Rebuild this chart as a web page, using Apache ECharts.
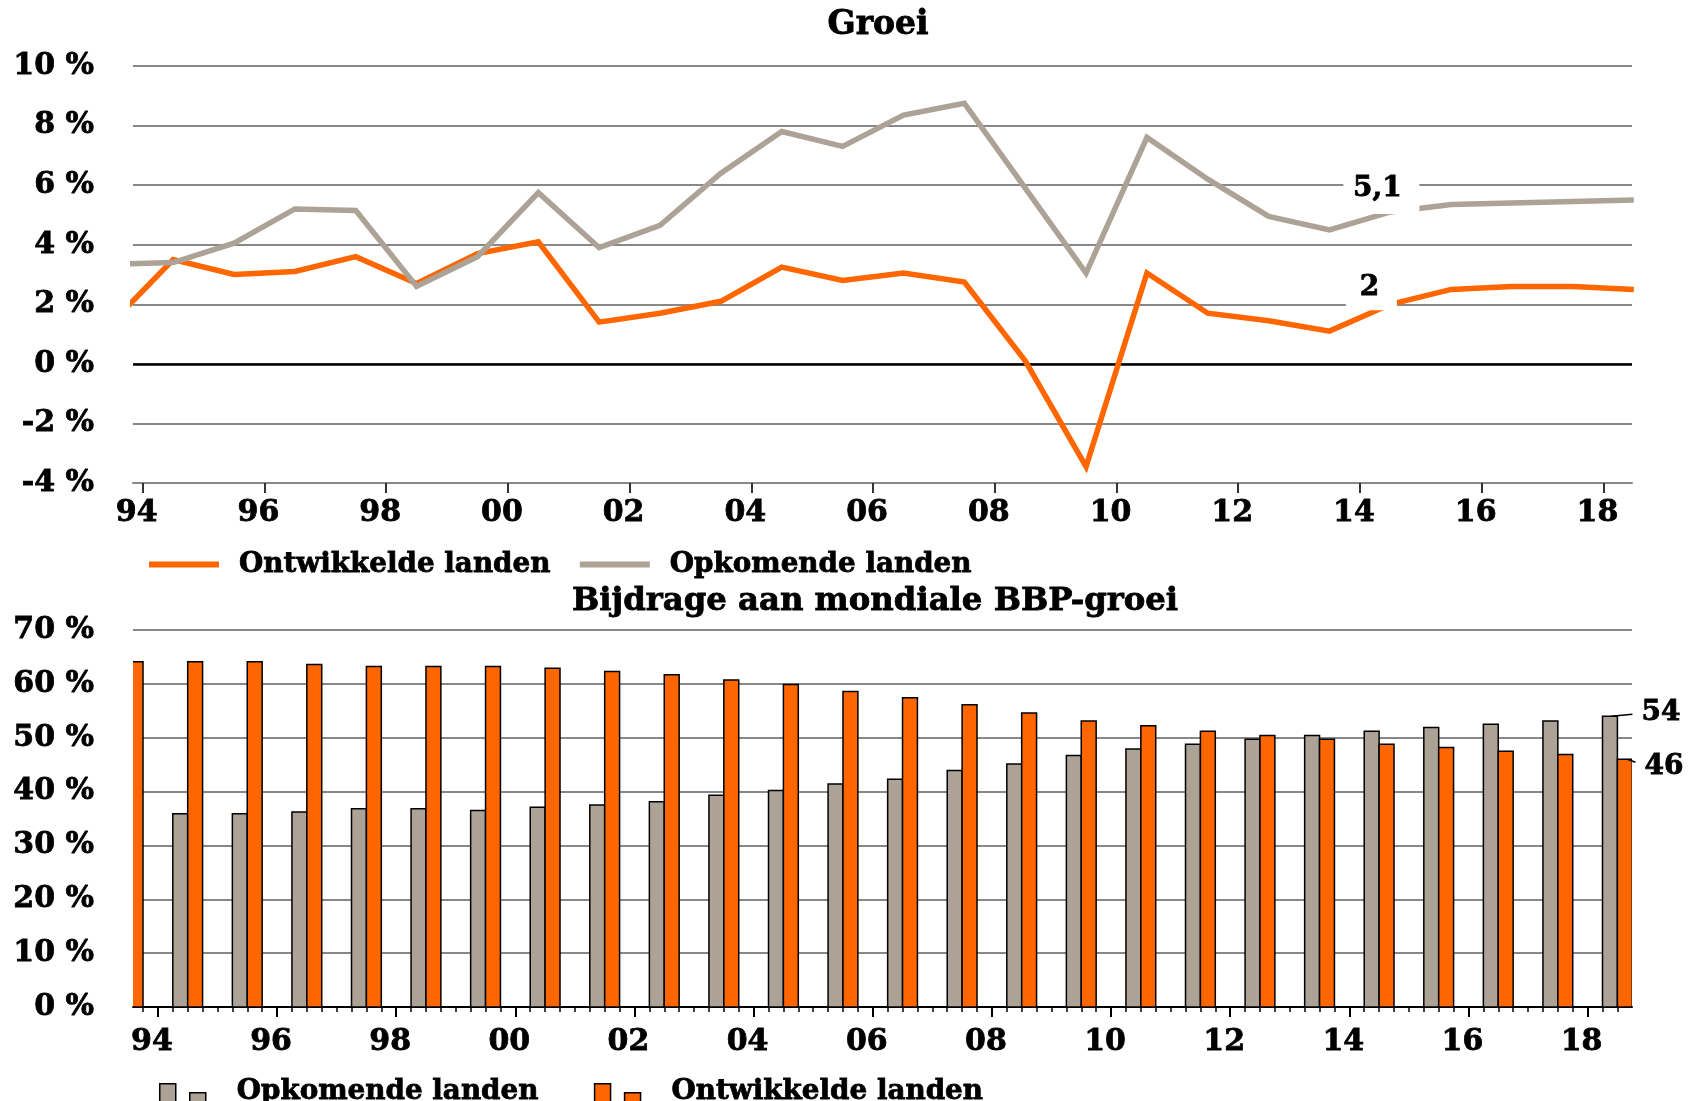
<!DOCTYPE html>
<html><head><meta charset="utf-8">
<script src="https://cdn.jsdelivr.net/npm/echarts@6/dist/echarts.min.js"></script>
<style>html,body{margin:0;padding:0;background:#fff}#c{width:1694px;height:1101px}</style>
</head><body><div id="c"></div>
<script>
// ---- data ----
const years = [1993,1994,1995,1996,1997,1998,1999,2000,2001,2002,2003,2004,2005,2006,2007,2008,2009,2010,2011,2012,2013,2014,2015,2016,2017,2018];
// Groei (%), yearly values plotted at mid-year
const growthDeveloped = [1.4,3.5,3.0,3.1,3.6,2.7,3.7,4.1,1.4,1.7,2.1,3.25,2.8,3.05,2.75,0.1,-3.45,3.05,1.7,1.45,1.1,2.0,2.5,2.6,2.6,2.5];
const growthEmerging  = [3.35,3.4,4.05,5.2,5.15,2.6,3.6,5.75,3.9,4.65,6.4,7.8,7.3,8.35,8.75,5.9,3.05,7.6,6.2,4.95,4.5,5.1,5.35,5.4,5.45,5.5];
// Bijdrage aan mondiale BBP-groei (%)
const shareEmerging  = [35.9,35.9,35.9,36.2,36.8,36.8,36.5,37.1,37.5,38.1,39.3,40.2,41.4,42.3,43.9,45.1,46.7,47.9,48.8,49.7,50.4,51.2,51.9,52.5,53.1,54.0];
const shareDeveloped = [64.1,64.1,64.1,63.6,63.2,63.2,63.2,62.9,62.3,61.7,60.7,59.9,58.6,57.4,56.1,54.6,53.1,52.2,51.2,50.4,49.7,48.8,48.2,47.5,46.9,46.0];
const majorTickYears = [1994,1996,1998,2000,2002,2004,2006,2008,2010,2012,2014,2016,2018];
const nameDev = 'Ontwikkelde landen';
const nameEm = 'Opkomende landen';
const title1 = 'Groei';
const title2 = 'Bijdrage aan mondiale BBP-groei';
const labelEmIdx = 21, labelDevIdx = 21; // 2014 labels
const labelEmText = '5,1', labelDevText = '2';
const endEmText = '54', endDevText = '46';

// ---- style ----
const FONT = "'DejaVu Serif', serif";
const ORANGE = '#FF6600', GREY = '#ACA296', GRID = '#888888';
const minorTicks = [];
for (let v = 1993.75; v <= 2018.76; v += 0.25) minorTicks.push(+v.toFixed(2));
const yr2 = v => String(Math.round(v) % 100).padStart(2, '0');
const lab = {fontFamily: FONT, fontWeight: 'bold', fontSize: 28, color: '#000', textBorderColor: '#000', textBorderWidth: 0.8};
const axisLab = Object.assign({}, lab, {fontSize: 30});
const legLab = Object.assign({}, lab, {fontSize: 27.8});

const chart = echarts.init(document.getElementById('c'));
const lastI = years.length - 1;

// bar drawn through the axis scales; off0/off1 = bar extent in years around the mid-year point
function barRender(off0, off1, fill) {
  return function (params, api) {
    const x = api.value(0), v = api.value(1);
    const a = api.coord([x + off0, v]);
    const b = api.coord([x + off1, 0]);
    return {
      type: 'rect',
      shape: {x: a[0], y: a[1], width: b[0] - a[0], height: b[1] - a[1]},
      style: {fill: fill, stroke: '#000', lineWidth: 1.5}
    };
  };
}

const option = {
  animation: false,
  backgroundColor: '#fff',
  grid: [
    {left: 133, right: 62, top: 66, height: 417},
    {left: 133, right: 62, top: 630, height: 377}
  ],
  legend: [
    {
      left: 144, top: 545, orient: 'horizontal', itemWidth: 70, itemHeight: 6, itemGap: 29, icon: 'rect',
      selectedMode: false,
      data: [
        {name: nameDev, itemStyle: {color: ORANGE, borderWidth: 0}},
        {name: nameEm, itemStyle: {color: GREY, borderWidth: 0}}
      ],
      textStyle: Object.assign({}, legLab, {padding: [0, 0, 9, 15]})
    },
    {
      left: 154, top: 1071, orient: 'horizontal', itemWidth: 46, itemHeight: 31, itemGap: 55,
      selectedMode: false,
      // leading move-to keeps the bars in the lower part of the icon box
      icon: 'path://M0,-7 M0,0 L16,0 L16,24 L0,24 Z M30,9 L46,9 L46,24 L30,24 Z',
      data: [
        {name: nameEm, itemStyle: {color: GREY, borderColor: '#000', borderWidth: 1.5}},
        {name: nameDev, itemStyle: {color: ORANGE, borderColor: '#000', borderWidth: 1.5}}
      ],
      textStyle: Object.assign({}, legLab, {padding: [0, 0, 0, 26]})
    }
  ],
  xAxis: [
    {
      gridIndex: 0, type: 'value', min: 1993.84, max: 2018.47, position: 'bottom',
      axisLine: {show: true, onZero: false, lineStyle: {color: GRID, width: 2}},
      axisTick: {show: true, customValues: majorTickYears, length: 10, lineStyle: {color: '#333', width: 2}},
      axisLabel: Object.assign({}, axisLab, {customValues: majorTickYears, formatter: yr2, margin: 15, padding: [0, 12, 0, 0]}),
      splitLine: {show: false}
    },
    {
      gridIndex: 1, type: 'value', min: 1993.582, max: 2018.745, position: 'bottom',
      axisLine: {show: true, onZero: false, lineStyle: {color: '#000', width: 2}},
      axisTick: {show: true, customValues: majorTickYears, length: 10, lineStyle: {color: '#000', width: 2}},
      axisLabel: Object.assign({}, axisLab, {customValues: majorTickYears, formatter: yr2, margin: 20, padding: [0, 12, 0, 0]}),
      splitLine: {show: false}
    },
    {
      gridIndex: 1, type: 'value', min: 1993.582, max: 2018.745, position: 'bottom',
      axisLine: {show: false, onZero: false},
      axisTick: {show: true, customValues: minorTicks, length: 5, lineStyle: {color: '#000', width: 1.5}},
      axisLabel: {show: false},
      splitLine: {show: false}
    }
  ],
  yAxis: [
    {
      gridIndex: 0, type: 'value', min: -4, max: 10, interval: 2,
      axisLine: {show: false}, axisTick: {show: false},
      splitLine: {show: true, lineStyle: {color: GRID, width: 2}},
      axisLabel: Object.assign({}, axisLab, {formatter: v => v + ' %', margin: 39, padding: [0, 0, 6, 0]})
    },
    {
      gridIndex: 1, type: 'value', min: 0, max: 70, interval: 10,
      axisLine: {show: false}, axisTick: {show: false},
      splitLine: {show: true, lineStyle: {color: GRID, width: 2}},
      axisLabel: Object.assign({}, axisLab, {formatter: v => v + ' %', margin: 39, padding: [0, 0, 6, 0]})
    }
  ],
  series: [
    {
      name: nameDev, type: 'line', xAxisIndex: 0, yAxisIndex: 0, clip: true,
      data: years.map((y, i) => [y + 0.5, growthDeveloped[i]]),
      showSymbol: false, symbol: 'none', color: ORANGE,
      lineStyle: {color: ORANGE, width: 5.5, join: 'miter'}, z: 3,
      markLine: {silent: true, symbol: 'none', label: {show: false},
        lineStyle: {color: '#000', width: 2.5, type: 'solid'}, data: [{yAxis: 0}], z: 2},
      markPoint: {
        silent: true, symbol: 'rect', symbolSize: [51, 48], symbolOffset: [-19, -18],
        itemStyle: {color: '#fff'},
        label: Object.assign({}, lab, {show: true, position: 'inside', formatter: labelDevText, offset: [-2, 1]}),
        data: [{coord: [years[labelDevIdx] + 0.5, growthDeveloped[labelDevIdx]]}], z: 6
      }
    },
    {
      name: nameEm, type: 'line', xAxisIndex: 0, yAxisIndex: 0, clip: true,
      data: years.map((y, i) => [y + 0.5, growthEmerging[i]]),
      showSymbol: false, symbol: 'none', color: GREY,
      lineStyle: {color: GREY, width: 5.5, join: 'miter'}, z: 4,
      markPoint: {
        silent: true, symbol: 'rect', symbolSize: [76, 48], symbolOffset: [-9, -22],
        itemStyle: {color: '#fff'},
        label: Object.assign({}, lab, {show: true, position: 'inside', formatter: labelEmText, offset: [-4, -1]}),
        data: [{coord: [years[labelEmIdx] + 0.5, growthEmerging[labelEmIdx]]}], z: 6
      }
    },
    {
      name: nameEm, type: 'custom', xAxisIndex: 1, yAxisIndex: 1, clip: true,
      color: GREY, encode: {x: 0, y: 1},
      renderItem: barRender(-0.25, 0, GREY),
      data: years.map((y, i) => [y + 0.5, shareEmerging[i]])
    },
    {
      name: nameDev, type: 'custom', xAxisIndex: 1, yAxisIndex: 1, clip: true,
      color: ORANGE, encode: {x: 0, y: 1},
      renderItem: barRender(0, 0.25, ORANGE),
      data: years.map((y, i) => [y + 0.5, shareDeveloped[i]])
    }
  ]
};
chart.setOption(option);

// titles, end labels and their leader lines, anchored through the axes
const pe = chart.convertToPixel({xAxisIndex: 1, yAxisIndex: 1}, [years[lastI] + 0.5, shareEmerging[lastI]]);
const pd = chart.convertToPixel({xAxisIndex: 1, yAxisIndex: 1}, [years[lastI] + 0.5, shareDeveloped[lastI]]);
const endFont = "bold 28px 'DejaVu Serif'";
const tstyle = (text, font, align) => ({text: text, align: align, verticalAlign: 'middle', fill: '#000', stroke: '#000', lineWidth: 0.8, font: font});
chart.setOption({graphic: [
  {type: 'text', x: 878, y: 25, style: tstyle(title1, "bold 33px 'DejaVu Serif'", 'center')},
  {type: 'text', x: 875, y: 602, style: tstyle(title2, "bold 32.3px 'DejaVu Serif'", 'center')},
  {type: 'text', x: pe[0] + 24, y: pe[1] - 3, style: tstyle(endEmText, endFont, 'left'), z: 10},
  {type: 'text', x: pd[0] + 27, y: pd[1] + 7, style: tstyle(endDevText, endFont, 'left'), z: 10},
  {type: 'line', shape: {x1: pe[0] - 6, y1: pe[1], x2: pe[0] + 15, y2: pe[1] - 2}, style: {stroke: '#000', lineWidth: 1.5}, z: 10},
  {type: 'line', shape: {x1: pd[0] + 10, y1: pd[1], x2: pd[0] + 18, y2: pd[1] + 3}, style: {stroke: '#000', lineWidth: 1.5}, z: 10}
]});
</script>
</body></html>
